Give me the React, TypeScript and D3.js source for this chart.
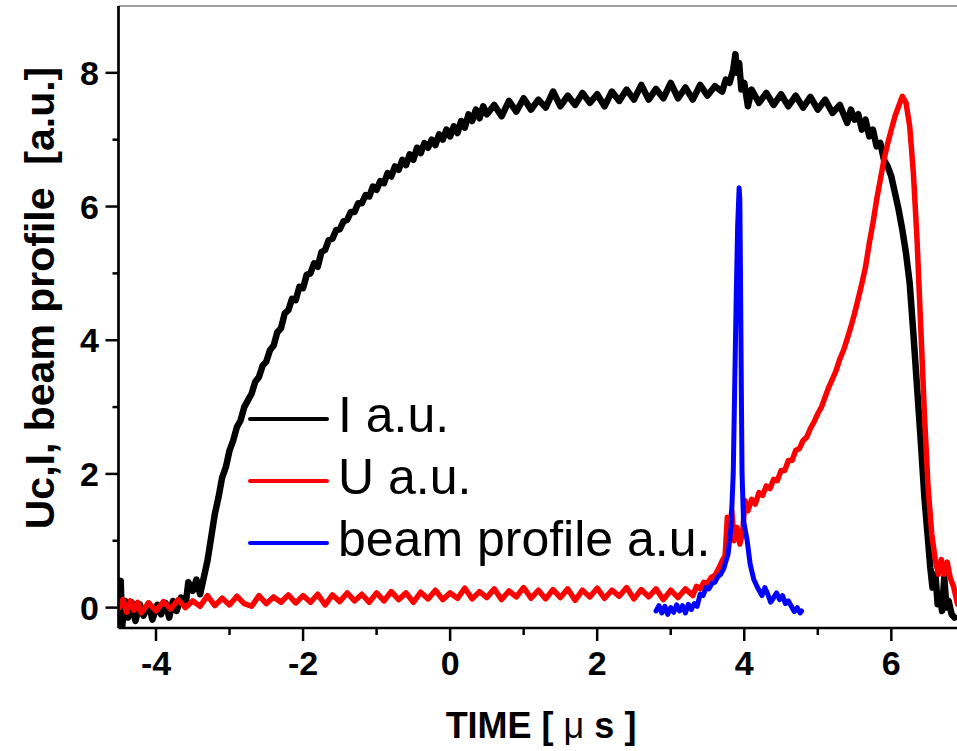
import React from "react";
import * as d3 from "d3";

const width = 957;
const height = 751;
const plot = { left: 118.5, right: 957.5, top: 6, bottom: 627 };

// I a.u. (black), noise included
const currentSeries: [number, number][] = [
  [-4.5, 0.05], [-4.48, 0.4], [-4.46, -0.28], [-4.42, 0.1], [-4.38, -0.15], [-4.33, 0.08], [-4.28, -0.2],
  [-4.22, 0.05], [-4.17, -0.12], [-4.1, 0.06], [-4.05, -0.18], [-3.98, 0.04], [-3.93, -0.1], [-3.87, 0.07],
  [-3.82, -0.15], [-3.77, 0.1], [-3.72, -0.05], [-3.66, 0.15], [-3.6, 0.02], [-3.56, 0.38], [-3.5, 0.25],
  [-3.45, 0.42], [-3.4, 0.2], [-3.35, 0.45], [-3.3, 0.7], [-3.25, 1.05], [-3.2, 1.4], [-3.15, 1.65],
  [-3.1, 1.95], [-3.05, 2.1], [-3.0, 2.35], [-2.95, 2.5], [-2.9, 2.7], [-2.85, 2.8], [-2.8, 3.0],
  [-2.75, 3.1], [-2.7, 3.2], [-2.65, 3.38], [-2.6, 3.45], [-2.55, 3.62], [-2.5, 3.68], [-2.45, 3.85],
  [-2.4, 3.92], [-2.35, 4.12], [-2.3, 4.18], [-2.25, 4.4], [-2.2, 4.45], [-2.15, 4.62], [-2.1, 4.6],
  [-2.05, 4.8], [-2.0, 4.78], [-1.95, 4.98], [-1.9, 5.0], [-1.85, 5.15], [-1.8, 5.1], [-1.75, 5.32],
  [-1.7, 5.35], [-1.65, 5.5], [-1.6, 5.52], [-1.55, 5.65], [-1.5, 5.66], [-1.45, 5.78], [-1.4, 5.8],
  [-1.35, 5.92], [-1.3, 5.92], [-1.25, 6.05], [-1.2, 6.05], [-1.15, 6.17], [-1.1, 6.15], [-1.05, 6.3],
  [-1.0, 6.25], [-0.95, 6.38], [-0.9, 6.35], [-0.85, 6.5], [-0.8, 6.45], [-0.75, 6.6], [-0.7, 6.55],
  [-0.65, 6.7], [-0.6, 6.62], [-0.55, 6.78], [-0.5, 6.7], [-0.45, 6.88], [-0.4, 6.8], [-0.35, 6.95],
  [-0.3, 6.88], [-0.25, 7.0], [-0.2, 6.92], [-0.15, 7.08], [-0.1, 7.0], [-0.05, 7.15], [0, 7.05],
  [0.05, 7.2], [0.1, 7.1], [0.15, 7.28], [0.2, 7.18], [0.25, 7.38], [0.3, 7.28], [0.35, 7.45],
  [0.4, 7.32], [0.45, 7.5], [0.5, 7.38], [0.6, 7.52], [0.7, 7.35], [0.8, 7.58], [0.9, 7.42],
  [1.0, 7.62], [1.1, 7.45], [1.2, 7.6], [1.3, 7.48], [1.4, 7.72], [1.5, 7.5], [1.6, 7.66], [1.7, 7.52],
  [1.8, 7.7], [1.9, 7.55], [2.0, 7.68], [2.1, 7.5], [2.2, 7.72], [2.3, 7.58], [2.4, 7.75], [2.5, 7.6],
  [2.6, 7.82], [2.7, 7.6], [2.8, 7.76], [2.9, 7.62], [3.0, 7.85], [3.1, 7.62], [3.2, 7.78], [3.3, 7.6],
  [3.4, 7.82], [3.5, 7.66], [3.6, 7.8], [3.7, 7.72], [3.75, 7.9], [3.8, 7.85], [3.85, 8.05], [3.88, 8.28],
  [3.9, 8.0], [3.93, 8.15], [3.96, 7.75], [4.0, 7.85], [4.05, 7.5], [4.1, 7.75], [4.2, 7.55], [4.3, 7.7],
  [4.4, 7.52], [4.5, 7.68], [4.6, 7.5], [4.7, 7.66], [4.8, 7.48], [4.9, 7.64], [5.0, 7.45], [5.1, 7.6],
  [5.2, 7.4], [5.3, 7.52], [5.4, 7.25], [5.45, 7.45], [5.5, 7.3], [5.55, 7.38], [5.6, 7.15], [5.65, 7.3],
  [5.7, 7.05], [5.75, 7.15], [5.8, 6.9], [5.85, 6.95], [5.9, 6.7], [5.95, 6.6], [6.0, 6.45], [6.05, 6.2],
  [6.1, 5.95], [6.15, 5.65], [6.2, 5.3], [6.25, 4.85], [6.3, 4.1], [6.35, 3.3], [6.4, 2.5], [6.45, 1.65],
  [6.5, 1.0], [6.53, 0.6], [6.56, 0.3], [6.6, 0.5], [6.63, 0.05], [6.66, 0.2], [6.69, -0.05], [6.72, 0.45],
  [6.75, 0.0], [6.78, 0.1], [6.82, -0.1], [6.86, -0.15],
];

// U a.u. (red)
const voltageSeries: [number, number][] = [
  [-4.5, 0.0], [-4.45, 0.12], [-4.4, -0.07], [-4.35, 0.1], [-4.3, -0.04], [-4.25, 0.08], [-4.2, -0.08],
  [-4.1, 0.07], [-4.0, -0.05], [-3.9, 0.09], [-3.8, -0.02], [-3.7, 0.12], [-3.6, 0.0], [-3.5, 0.1],
  [-3.4, 0.02], [-3.3, 0.18], [-3.2, 0.03], [-3.1, 0.14], [-3.0, 0.04], [-2.9, 0.17], [-2.8, 0.06],
  [-2.7, 0.02], [-2.6, 0.18], [-2.5, 0.06], [-2.4, 0.16], [-2.3, 0.08], [-2.2, 0.19], [-2.1, 0.07],
  [-2.0, 0.18], [-1.9, 0.08], [-1.8, 0.2], [-1.7, 0.04], [-1.6, 0.19], [-1.5, 0.09], [-1.4, 0.22],
  [-1.3, 0.1], [-1.2, 0.2], [-1.1, 0.08], [-1.0, 0.22], [-0.9, 0.1], [-0.8, 0.24], [-0.7, 0.12],
  [-0.6, 0.22], [-0.5, 0.08], [-0.4, 0.23], [-0.3, 0.13], [-0.2, 0.26], [-0.1, 0.12], [0.0, 0.22],
  [0.1, 0.14], [0.2, 0.29], [0.3, 0.13], [0.4, 0.24], [0.5, 0.15], [0.6, 0.28], [0.7, 0.12], [0.8, 0.25],
  [0.9, 0.16], [1.0, 0.3], [1.1, 0.14], [1.2, 0.26], [1.3, 0.13], [1.4, 0.27], [1.5, 0.15], [1.6, 0.28],
  [1.7, 0.11], [1.8, 0.26], [1.9, 0.16], [2.0, 0.29], [2.1, 0.14], [2.2, 0.26], [2.3, 0.17], [2.4, 0.3],
  [2.5, 0.13], [2.6, 0.27], [2.7, 0.16], [2.8, 0.28], [2.9, 0.12], [3.0, 0.26], [3.1, 0.15], [3.2, 0.28],
  [3.3, 0.18], [3.35, 0.32], [3.4, 0.28], [3.45, 0.38], [3.5, 0.36], [3.55, 0.45], [3.6, 0.48],
  [3.65, 0.58], [3.7, 0.7], [3.74, 0.78], [3.77, 1.35], [3.8, 1.1], [3.83, 1.45], [3.86, 1.0],
  [3.9, 1.2], [3.94, 0.95], [3.98, 1.15], [4.01, 1.6], [4.05, 1.45], [4.1, 1.62], [4.15, 1.55],
  [4.2, 1.72], [4.25, 1.68], [4.3, 1.82], [4.35, 1.78], [4.4, 1.92], [4.45, 1.9], [4.5, 2.05],
  [4.55, 2.05], [4.6, 2.2], [4.65, 2.2], [4.7, 2.35], [4.75, 2.38], [4.8, 2.5], [4.85, 2.55],
  [4.9, 2.68], [4.95, 2.78], [5.0, 2.9], [5.05, 3.0], [5.1, 3.15], [5.15, 3.3], [5.2, 3.42],
  [5.25, 3.55], [5.3, 3.72], [5.35, 3.85], [5.4, 4.02], [5.45, 4.2], [5.5, 4.4], [5.55, 4.62],
  [5.6, 4.85], [5.65, 5.1], [5.7, 5.45], [5.75, 5.75], [5.8, 6.1], [5.85, 6.4], [5.9, 6.7], [5.95, 6.94],
  [6.0, 7.15], [6.05, 7.35], [6.1, 7.5], [6.15, 7.65], [6.2, 7.55], [6.25, 7.2], [6.3, 6.5], [6.35, 5.5],
  [6.4, 4.2], [6.45, 2.9], [6.5, 1.8], [6.55, 1.1], [6.6, 0.7], [6.64, 0.5], [6.68, 0.72], [6.72, 0.5],
  [6.76, 0.68], [6.8, 0.45], [6.85, 0.3], [6.9, 0.05],
];

// beam profile a.u. (blue)
const beamSeries: [number, number][] = [
  [2.8, -0.05], [2.84, 0.03], [2.88, -0.08], [2.92, 0.02], [2.96, -0.1], [3.0, 0.0], [3.04, -0.07],
  [3.08, 0.04], [3.12, -0.05], [3.16, 0.03], [3.2, -0.08], [3.24, 0.05], [3.28, -0.03], [3.32, 0.06],
  [3.36, 0.02], [3.4, 0.2], [3.44, 0.18], [3.48, 0.3], [3.52, 0.28], [3.56, 0.36], [3.6, 0.38],
  [3.64, 0.46], [3.68, 0.5], [3.72, 0.58], [3.78, 0.8], [3.82, 1.2], [3.85, 2.0], [3.87, 3.3],
  [3.89, 4.6], [3.91, 5.7], [3.93, 6.28], [3.94, 6.1], [3.95, 4.8], [3.96, 3.3], [3.97, 2.0],
  [3.99, 1.3], [4.04, 1.0], [4.08, 0.65], [4.13, 0.42], [4.18, 0.3], [4.24, 0.18], [4.28, 0.3],
  [4.32, 0.2], [4.36, 0.08], [4.4, 0.15], [4.44, 0.22], [4.48, 0.12], [4.52, 0.18], [4.56, 0.06],
  [4.6, 0.1], [4.64, 0.02], [4.68, -0.06], [4.72, 0.0], [4.76, -0.08], [4.78, -0.05],
];

const xMajorTicks = [-4, -2, 0, 2, 4, 6];
const xMinorTicks = [-3, -1, 1, 3, 5];
const yMajorTicks = [0, 2, 4, 6, 8];
const yMinorTicks = [1, 3, 5, 7];

const legendItems = [
  { label: "I a.u.", color: "#000000" },
  { label: "U a.u.", color: "#ff0000" },
  { label: "beam profile a.u.", color: "#0000ff" },
];

const font = "Arial, 'Liberation Sans', sans-serif";

const App = () => {
  const x = d3.scaleLinear().domain([-4.51, 6.9]).range([plot.left, plot.right]);
  const y = d3.scaleLinear().domain([-0.29, 9.0]).range([plot.bottom, plot.top]);

  const line = d3
    .line<[number, number]>()
    .x((d) => x(d[0]))
    .y((d) => y(d[1]));

  return (
    <svg
      width={width}
      height={height}
      style={{ position: "absolute", left: 0, top: 0, background: "#fff" }}
      fontFamily={font}
    >
      <defs>
        <clipPath id="plot-clip">
          <rect x={plot.left} y={plot.top} width={plot.right - plot.left} height={plot.bottom - plot.top} />
        </clipPath>
      </defs>

      {/* series */}
      <g clipPath="url(#plot-clip)" fill="none" strokeLinejoin="round" strokeLinecap="round">
        <path d={line(currentSeries) ?? ""} stroke="#000" strokeWidth={6.5} />
        <path d={line(voltageSeries) ?? ""} stroke="#ff0000" strokeWidth={5.5} />
        <path d={line(beamSeries) ?? ""} stroke="#0000ff" strokeWidth={5} />
      </g>

      {/* frame */}
      <line x1={plot.left} x2={width} y1={plot.top} y2={plot.top} stroke="#808080" strokeWidth={1.5} />
      <line x1={plot.left} x2={plot.left} y1={plot.top} y2={plot.bottom + 1} stroke="#000" strokeWidth={2.7} />
      <line x1={plot.left} x2={width} y1={plot.bottom + 1} y2={plot.bottom + 1} stroke="#000" strokeWidth={2.5} />

      {/* x ticks */}
      {xMajorTicks.map((t) => (
        <g key={`xm${t}`}>
          <line x1={x(t)} x2={x(t)} y1={plot.bottom + 1} y2={plot.bottom + 14} stroke="#000" strokeWidth={2.5} />
          <text x={x(t)} y={675} textAnchor="middle" fontSize={34} fontWeight="bold">
            {t}
          </text>
        </g>
      ))}
      {xMinorTicks.map((t) => (
        <line key={`xn${t}`} x1={x(t)} x2={x(t)} y1={plot.bottom + 1} y2={plot.bottom + 8} stroke="#000" strokeWidth={2.5} />
      ))}

      {/* y ticks */}
      {yMajorTicks.map((t) => (
        <g key={`ym${t}`}>
          <line x1={plot.left - 13} x2={plot.left} y1={y(t)} y2={y(t)} stroke="#000" strokeWidth={2.5} />
          <text x={99} y={y(t) + 12} textAnchor="end" fontSize={34} fontWeight="bold">
            {t}
          </text>
        </g>
      ))}
      {yMinorTicks.map((t) => (
        <line key={`yn${t}`} x1={plot.left - 6} x2={plot.left} y1={y(t)} y2={y(t)} stroke="#000" strokeWidth={2.5} />
      ))}

      {/* axis titles */}
      <text x={541} y={738} textAnchor="middle" fontSize={36} fontWeight="bold" style={{ whiteSpace: "pre" }}>
        TIME [ <tspan fontWeight="normal">μ</tspan> s ]
      </text>
      <text
        transform="translate(54,298) rotate(-90)"
        textAnchor="middle"
        fontSize={41}
        fontWeight="bold"
        style={{ whiteSpace: "pre" }}
      >
        Uc,I, beam profile  [a.u.]
      </text>

      {/* legend */}
      {legendItems.map((item, i) => {
        const ly = 419 + i * 62;
        return (
          <g key={item.label}>
            <line x1={250} x2={327} y1={ly} y2={ly} stroke={item.color} strokeWidth={4} strokeLinecap="round" />
            <text x={338} y={ly + 13} fontSize={50}>
              {item.label}
            </text>
          </g>
        );
      })}
    </svg>
  );
};

export default App;
